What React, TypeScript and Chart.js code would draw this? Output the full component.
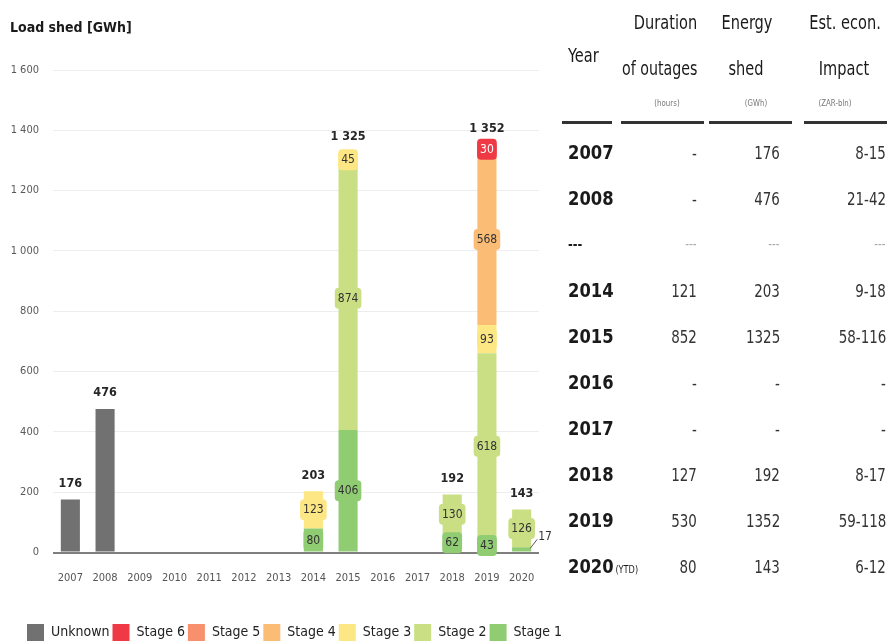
import React, { useEffect, useRef } from "react";
import { Chart, registerables } from "chart.js";

Chart.register(...registerables);

const FONT = '"DejaVu Sans Condensed", "DejaVu Sans", Arial, sans-serif';

// ---- chart data ----
const years = ["2007", "2008", "2009", "2010", "2011", "2012", "2013", "2014", "2015", "2016", "2017", "2018", "2019", "2020"];
const unknown = [176, 476, null, null, null, null, null, null, null, null, null, null, null, null];
const stage1 = [null, null, null, null, null, null, null, 80, 406, null, null, 62, 43, 17];
const stage2 = [null, null, null, null, null, null, null, null, 874, null, null, 130, 618, 126];
const stage3 = [null, null, null, null, null, null, null, 123, 45, null, null, null, 93, null];
const stage4 = [null, null, null, null, null, null, null, null, null, null, null, null, 568, null];
const stage5 = [null, null, null, null, null, null, null, null, null, null, null, null, null, null];
const stage6 = [null, null, null, null, null, null, null, null, null, null, null, null, 30, null];
const yTicks = [0, 200, 400, 600, 800, 1000, 1200, 1400, 1600];
const legendOrder = ["Unknown", "Stage 6", "Stage 5", "Stage 4", "Stage 3", "Stage 2", "Stage 1"];

// ---- table data ----
const tableYears = ["2007", "2008", "---", "2014", "2015", "2016", "2017", "2018", "2019", "2020"];
const durations = ["-", "-", "---", "121", "852", "-", "-", "127", "530", "80"];
const energies = ["176", "476", "---", "203", "1325", "-", "-", "192", "1352", "143"];
const impacts = ["8-15", "21-42", "---", "9-18", "58-116", "-", "-", "8-17", "59-118", "6-12"];

const COLORS: Record<string, string> = {
  "Unknown": "#717171",
  "Stage 6": "#ef3a45",
  "Stage 5": "#f8906d",
  "Stage 4": "#fbbc76",
  "Stage 3": "#fde784",
  "Stage 2": "#cadf83",
  "Stage 1": "#90cc72",
};

const fmt = (v: number) => String(v).replace(/\B(?=(\d{3})+(?!\d))/g, " ");

const labelPlugin = {
  id: "segLabels",
  afterDatasetsDraw(chart: any) {
    const ctx = chart.ctx as CanvasRenderingContext2D;
    ctx.save();
    ctx.textAlign = "center";
    ctx.textBaseline = "middle";
    chart.data.datasets.forEach((ds: any, di: number) => {
      if (ds.label === "Unknown") return;
      const meta = chart.getDatasetMeta(di);
      ds.data.forEach((v: number | null, j: number) => {
        if (v == null) return;
        const el = meta.data[j];
        const { x, y, base, width } = el.getProps(["x", "y", "base", "width"], true);
        const cy = (y + base) / 2;
        const txt = String(v);
        ctx.font = `normal 12px ${FONT}`;
        const tw = ctx.measureText(txt).width;
        if (v < 25) {
          const xr = x + width / 2;
          ctx.strokeStyle = "#555";
          ctx.lineWidth = 1;
          ctx.beginPath();
          ctx.moveTo(xr - 1, y + 1);
          ctx.lineTo(xr + 6, y - 8);
          ctx.stroke();
          ctx.fillStyle = "#333";
          ctx.textAlign = "left";
          ctx.fillText(txt, xr + 7, y - 10);
          ctx.textAlign = "center";
        } else {
          const bw = Math.max(width, tw + 6);
          const bh = 21;
          ctx.fillStyle = ds.backgroundColor;
          ctx.beginPath();
          (ctx as any).roundRect(x - bw / 2, cy - bh / 2, bw, bh, 4);
          ctx.fill();
          ctx.fillStyle = ds.label === "Stage 6" ? "#ffffff" : "#333333";
          ctx.fillText(txt, x, cy + 0.5);
        }
      });
    });
    years.forEach((_, j) => {
      const sum = chart.data.datasets.reduce((s: number, ds: any) => s + (ds.data[j] ?? 0), 0);
      if (!sum) return;
      const x = chart.scales.x.getPixelForValue(j);
      const yTop = chart.scales.y.getPixelForValue(sum);
      ctx.font = `bold 12.5px ${FONT}`;
      ctx.fillStyle = "#262626";
      ctx.fillText(fmt(sum), x, yTop - 16);
    });
    ctx.restore();
  },
};

type TxtProps = { x: number; y: number; align?: "left" | "right" | "center"; size: number; sx?: number; weight?: string | number; color?: string; children: React.ReactNode };
function Txt({ x, y, align = "left", size, sx = 1, weight = "normal", color = "#222", children }: TxtProps) {
  const lh = Math.round(size * 1.25);
  const style: React.CSSProperties = {
    position: "absolute",
    top: y - lh / 2,
    lineHeight: `${lh}px`,
    fontSize: size,
    fontWeight: weight as any,
    color,
    whiteSpace: "nowrap",
    fontFamily: FONT,
  };
  if (align === "left") {
    style.left = x;
    style.transform = `scaleX(${sx})`;
    style.transformOrigin = "left center";
  } else if (align === "right") {
    style.right = 887 - x;
    style.transform = `scaleX(${sx})`;
    style.transformOrigin = "right center";
  } else {
    style.left = x;
    style.transform = `translateX(-50%) scaleX(${sx})`;
    style.transformOrigin = "center center";
  }
  return <div style={style}>{children}</div>;
}

export default function App() {
  const ref = useRef<HTMLCanvasElement>(null);
  useEffect(() => {
    const mk = (label: string, data: (number | null)[]) => ({
      label,
      data,
      backgroundColor: COLORS[label],
      borderWidth: 0,
      categoryPercentage: 1,
      barPercentage: 0.55,
    });
    const chart = new Chart(ref.current!, {
      type: "bar",
      data: {
        labels: years,
        datasets: [
          mk("Unknown", unknown),
          mk("Stage 1", stage1),
          mk("Stage 2", stage2),
          mk("Stage 3", stage3),
          mk("Stage 4", stage4),
          mk("Stage 5", stage5),
          mk("Stage 6", stage6),
        ],
      },
      options: {
        responsive: false,
        animation: false,
        layout: { padding: { left: 10, right: 0, top: 0, bottom: 0 } },
        scales: {
          x: {
            stacked: true,
            grid: { display: false, drawTicks: false },
            border: { display: false },
            ticks: { color: "#555", font: { family: FONT, size: 11 }, padding: 19, maxRotation: 0, autoSkip: false },
            afterFit: (s: any) => { s.height = 68.5; },
          },
          y: {
            stacked: true,
            min: yTicks[0],
            max: yTicks[yTicks.length - 1],
            afterBuildTicks: (s: any) => { s.ticks = yTicks.map((v) => ({ value: v })); },
            grid: {
              drawTicks: false,
              color: (c: any) => (c.tick && c.tick.value === 0 ? "#7f7f7f" : "#ededed"),
              lineWidth: (c: any) => (c.tick && c.tick.value === 0 ? 2 : 1),
            },
            border: { display: false },
            ticks: { color: "#595959", font: { family: FONT, size: 11 }, padding: 14, callback: (v: any) => fmt(Number(v)) },
            afterFit: (s: any) => { s.width = 43; },
          },
          yR: {
            type: "linear",
            position: "right",
            display: true,
            min: 0,
            max: 1,
            grid: { display: false, drawTicks: false },
            border: { display: false },
            ticks: { display: false },
            afterFit: (s: any) => { s.width = 40; },
          },
        },
        plugins: {
          title: {
            display: true,
            text: "Load shed [GWh]",
            align: "start",
            color: "#1a1a1a",
            font: { family: FONT, size: 14, weight: "bold" },
            padding: { top: 19.6, bottom: 33.6 },
          },
          legend: {
            position: "bottom",
            labels: {
              boxWidth: 17,
              boxHeight: 17,
              padding: 3,
              color: "#222",
              font: { family: FONT, size: 14 },
              sort: (a: any, b: any) => legendOrder.indexOf(a.text) - legendOrder.indexOf(b.text),
            },
          },
          tooltip: { enabled: false },
        },
      } as any,
      plugins: [labelPlugin],
    });
    return () => chart.destroy();
  }, []);

  const rowY = (i: number) => 152 + i * 46.1;
  const H = "#1a1a1a";

  return (
    <div style={{ position: "absolute", left: 0, top: 0, width: 887, height: 642, overflow: "hidden", background: "#fff", fontFamily: FONT }}>
      <canvas ref={ref} width={579} height={651} style={{ position: "absolute", left: 0, top: 0, width: 579, height: 651 }} />
      {/* table header */}
      <Txt x={568} y={55} size={20} sx={0.81} color={H}>Year</Txt>
      <Txt x={697} y={22} align="right" size={20} sx={0.81} color={H}>Duration</Txt>
      <Txt x={697} y={68} align="right" size={20} sx={0.79} color={H}>of outages</Txt>
      <Txt x={667} y={103} align="center" size={9} sx={0.87} color="#777">(hours)</Txt>
      <Txt x={747} y={22} align="center" size={20} sx={0.81} color={H}>Energy</Txt>
      <Txt x={746} y={68} align="center" size={20} sx={0.81} color={H}>shed</Txt>
      <Txt x={756} y={103} align="center" size={9} sx={0.87} color="#777">(GWh)</Txt>
      <Txt x={845} y={22} align="center" size={20} sx={0.81} color={H}>Est. econ.</Txt>
      <Txt x={844} y={68} align="center" size={20} sx={0.81} color={H}>Impact</Txt>
      <Txt x={835} y={103} align="center" size={9} sx={0.87} color="#777">(ZAR-bln)</Txt>
      {[[562, 612], [621, 704], [709, 792], [804, 887]].map(([a, b], i) => (
        <div key={i} style={{ position: "absolute", left: a, top: 121, width: b - a, height: 3, background: "#333" }} />
      ))}
      {tableYears.map((yr, i) => {
        const y = rowY(i);
        const dash = yr === "---";
        const vc = dash ? "#aaa" : "#333";
        const vs = dash ? 14 : 18;
        return (
          <React.Fragment key={i}>
            <Txt x={568} y={y} size={dash ? 14 : 20} sx={0.91} weight="bold" color={H}>
              {yr}
              {yr === "2020" ? <span style={{ fontSize: 10, fontWeight: "normal", marginLeft: 2 }}>(YTD)</span> : null}
            </Txt>
            <Txt x={697} y={y} align="right" size={vs} sx={0.83} color={vc}>{durations[i]}</Txt>
            <Txt x={780} y={y} align="right" size={vs} sx={0.83} color={vc}>{energies[i]}</Txt>
            <Txt x={886} y={y} align="right" size={vs} sx={0.83} color={vc}>{impacts[i]}</Txt>
          </React.Fragment>
        );
      })}
    </div>
  );
}
